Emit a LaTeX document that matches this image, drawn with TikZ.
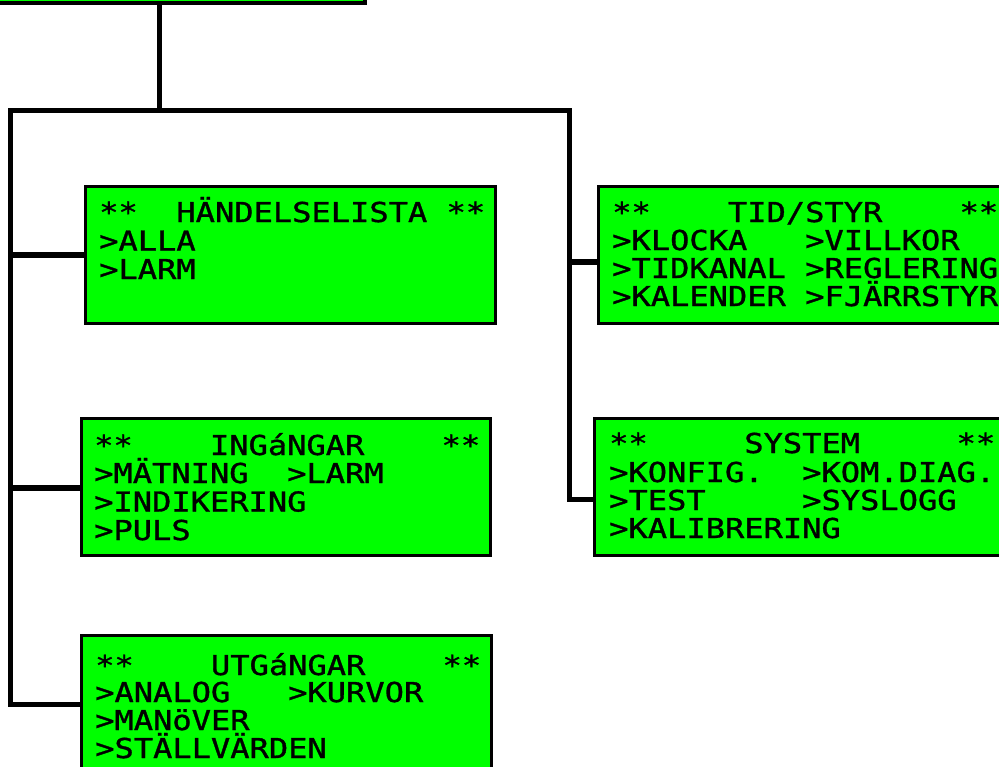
\documentclass[tikz,border=0pt]{standalone}
\usepackage{fontspec}
\newfontfamily\lcd[FakeStretch=1.17,FakeBold=1.2]{DejaVu Sans Mono}
\definecolor{lcdgreen}{RGB}{0,255,0}
\begin{document}
\begin{tikzpicture}[x=1pt,y=-1pt,
  box/.style={draw=black, line width=3.5pt, fill=lcdgreen, rectangle, inner sep=0pt},
  conn/.style={draw=black, line width=5.5pt, line join=miter},
  lcdtxt/.style={anchor=base west, inner sep=0pt, font=\lcd\fontsize{27.4}{30}\selectfont}]
\useasboundingbox (0,0) rectangle (999,766);
\clip (0,0) rectangle (999,766);
% boxes
\node[box, minimum width=375pt, minimum height=53pt] (top) at (177.5,-23.5) {};
\node[box, minimum width=410pt, minimum height=137pt] (hand) at (290.5,255) {};
\node[box, minimum width=411.5pt, minimum height=137pt] (tid) at (804.25,255) {};
\node[box, minimum width=409pt, minimum height=137pt] (ing) at (286,487) {};
\node[box, minimum width=415.5pt, minimum height=137pt] (sys) at (802.25,487) {};
\node[box, minimum width=410pt, minimum height=138pt] (utg) at (286.5,704.5) {};
% bus
\coordinate (L) at (10.5,110.5);
\coordinate (R) at (569.5,110.5);
\coordinate (J) at (159.5,110.5);
\draw[conn] (utg.west) -| (L) -- (R) |- ([yshift=-12.5pt]sys.west);
\draw[conn] (top.south -| J) -- (J);
\draw[conn] (L |- hand.west) -- (hand.west);
\draw[conn] (L |- ing.west) ++(0,1) -- ([yshift=-1pt]ing.west);
\draw[conn] (R |- tid.west) ++(0,7) -- ([yshift=-7pt]tid.west);
% texts
\node[lcdtxt] (h1) at (99,222) {**~~HÄNDELSELISTA~**};
\node[lcdtxt] (h2) at (99,250.5) {>ALLA};
\node[lcdtxt] (h3) at (99,279) {>LARM};
\node[lcdtxt] (t1) at (612,222) {**~~~~TID/STYR~~~~**};
\node[lcdtxt] (t2) at (612,250) {>KLOCKA~~~>VILLKOR};
\node[lcdtxt] (t3) at (612,278) {>TIDKANAL~>REGLERING};
\node[lcdtxt] (t4) at (612,306) {>KALENDER~>FJÄRRSTYR};
\node[lcdtxt] (i1) at (94,455) {**~~~~INGáNGAR~~~~**};
\node[lcdtxt] (i2) at (94,483) {>MÄTNING~~>LARM};
\node[lcdtxt] (i3) at (94,511.5) {>INDIKERING};
\node[lcdtxt] (i4) at (94,540) {>PULS};
\node[lcdtxt] (s1) at (609,453) {**~~~~~SYSTEM~~~~~**};
\node[lcdtxt] (s2) at (609,482) {>KONFIG.~~>KOM.DIAG.};
\node[lcdtxt] (s3) at (609,510) {>TEST~~~~~>SYSLOGG};
\node[lcdtxt] (s4) at (609,538) {>KALIBRERING};
\node[lcdtxt] (u1) at (95,675) {**~~~~UTGáNGAR~~~~**};
\node[lcdtxt] (u2) at (95,702) {>ANALOG~~~>KURVOR};
\node[lcdtxt] (u3) at (95,730) {>MANöVER};
\node[lcdtxt] (u4) at (95,758) {>STÄLLVÄRDEN};
\end{tikzpicture}
\end{document}
